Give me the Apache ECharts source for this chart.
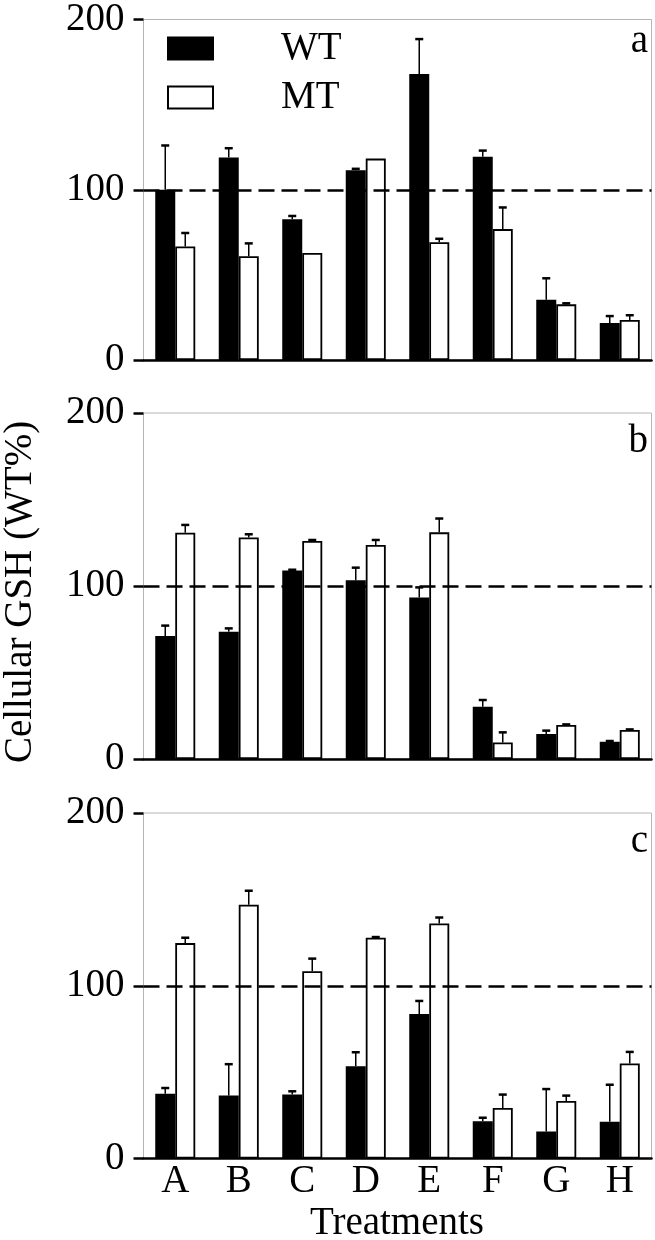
<!DOCTYPE html>
<html>
<head>
<meta charset="utf-8">
<script src="https://cdn.jsdelivr.net/npm/echarts@6/dist/echarts.min.js"></script>
<style>
  html, body { margin: 0; padding: 0; background: #fff; }
  #chart { width: 655px; height: 1240px; }
</style>
</head>
<body>
<div id="chart"></div>
<script>
// categories & tick labels
const treatments = ['A', 'B', 'C', 'D', 'E', 'F', 'G', 'H']
const yTicks = [0, 100, 200]

// panel a
const wtA = [100, 119, 82.7, 111.5, 168, 119.4, 35.4, 21.7]
const wtErrA = [26, 5.4, 1.9, 0.8, 20.5, 3.6, 12.6, 4.1]
const mtA = [66.7, 61, 62.9, 118.3, 69.2, 76.9, 32.7, 23.5]
const mtErrA = [7.9, 7.5, 0, 0, 2, 12.7, 0.6, 2.8]

// panel b
const wtB = [71.1, 73.6, 109, 103.3, 93.3, 30.2, 14.5, 10]
const wtErrB = [6, 1.9, 0.4, 7.3, 5.9, 3.9, 1.9, 0.4]
const mtB = [130.8, 128.1, 126, 123.7, 131, 9.6, 19.7, 16.8]
const mtErrB = [4.5, 1.8, 0.6, 2.9, 8, 5.8, 0.3, 0.3]

// panel c
const wtC = [37.5, 36.4, 37, 53.4, 83.7, 21.5, 15.7, 21.3]
const wtErrC = [3.3, 18.2, 1.9, 8.1, 7.5, 2.1, 24.5, 21.4]
const mtC = [124.7, 146.9, 108.4, 127.8, 136, 29.3, 33.3, 55]
const mtErrC = [3.1, 8.1, 7.3, 0.4, 3.5, 7.7, 3.1, 6.7]

const refLine = 100

const panels = [
  { letter: 'a', wt: wtA, wtErr: wtErrA, mt: mtA, mtErr: mtErrA, top: 13.5, bottom: 360 },
  { letter: 'b', wt: wtB, wtErr: wtErrB, mt: mtB, mtErr: mtErrB, top: 413, bottom: 759 },
  { letter: 'c', wt: wtC, wtErr: wtErrC, mt: mtC, mtErr: mtErrC, top: 813, bottom: 1158.5 }
]

const FONT = "'Liberation Serif', 'DejaVu Serif', 'Times New Roman', serif"
const catGap = 0.37

// error bar: upper whisker only, with a cap
const errRenderer = (side) => (params, api) => {
  const idx = api.value(0)
  const v = api.value(1)
  const e = api.value(2)
  if (!e) return
  const band = api.size([1, 0])[0]
  const bw = band * (1 - catGap) / 2
  const base = api.coord([idx, v])
  const top = api.coord([idx, v + e])
  const x = base[0] + side * bw / 2
  return {
    type: 'group',
    children: [
      { type: 'line', shape: { x1: x, y1: base[1], x2: x, y2: top[1] }, style: { stroke: '#000', lineWidth: 1.5 } },
      { type: 'line', shape: { x1: x - 4, y1: top[1], x2: x + 4, y2: top[1] }, style: { stroke: '#000', lineWidth: 2.5 } }
    ]
  }
}

const grids = []
const xAxes = []
const yAxes = []
const series = []

panels.forEach((p, i) => {
  grids.push({
    left: 143.5, right: 3.5, top: p.top, height: p.bottom - p.top,
    show: true, borderColor: '#b5b5b5', borderWidth: 1
  })
  xAxes.push({
    type: 'category', gridIndex: i, data: treatments,
    axisLine: { lineStyle: { color: '#000', width: 2.5 } },
    axisTick: { show: false },
    axisLabel: { show: i === 2, color: '#000', fontFamily: FONT, fontSize: 39, margin: 4 },
    splitLine: { show: false }
  })
  yAxes.push({
    type: 'value', gridIndex: i, min: yTicks[0], max: yTicks[yTicks.length - 1], interval: 100,
    axisLine: { show: false },
    axisTick: { show: true, length: 10, lineStyle: { color: '#000', width: 2.5 } },
    axisLabel: { color: '#000', fontFamily: FONT, fontSize: 39, margin: 19 },
    splitLine: { show: false }
  })
  series.push({
    name: 'WT', type: 'bar', xAxisIndex: i, yAxisIndex: i, data: p.wt,
    barGap: '0%', barCategoryGap: (catGap * 100) + '%',
    itemStyle: { color: '#000', borderColor: '#000', borderWidth: 1.5 }
  })
  series.push({
    name: 'MT', type: 'bar', xAxisIndex: i, yAxisIndex: i, data: p.mt,
    itemStyle: { color: '#fff', borderColor: '#000', borderWidth: 1.8 },
    markLine: {
      silent: true, symbol: 'none', label: { show: false },
      lineStyle: { color: '#000', type: [16, 7], width: 2.5 },
      data: [{ yAxis: refLine }]
    }
  })
  series.push({
    type: 'custom', xAxisIndex: i, yAxisIndex: i, z: 5,
    renderItem: errRenderer(-1),
    encode: { x: 0, y: 1 },
    data: p.wt.map((v, k) => [k, v, p.wtErr[k]])
  })
  series.push({
    type: 'custom', xAxisIndex: i, yAxisIndex: i, z: 5,
    renderItem: errRenderer(1),
    encode: { x: 0, y: 1 },
    data: p.mt.map((v, k) => [k, v, p.mtErr[k]])
  })
})

const textStyle = (txt, extra) => Object.assign({ text: txt, fill: '#000', fontFamily: FONT, fontSize: 39 }, extra || {})

const chart = echarts.init(document.getElementById('chart'))
chart.setOption({
  animation: false,
  backgroundColor: '#fff',
  grid: grids,
  xAxis: xAxes,
  yAxis: yAxes,
  legend: {
    data: ['WT', 'MT'],
    orient: 'vertical', left: 162, top: 24,
    itemWidth: 45, itemHeight: 22, itemGap: 10,
    icon: 'rect',
    textStyle: { color: '#000', fontFamily: FONT, fontSize: 39, padding: [0, 0, 0, 63] }
  },
  graphic: [
    ...panels.map(p => ({
      type: 'text', right: 7, top: p.top + 9,
      style: textStyle(p.letter)
    })),
    {
      type: 'text', x: 21, y: 592, rotation: Math.PI / 2,
      style: textStyle('Cellular GSH (WT%)', { align: 'center', verticalAlign: 'middle' })
    },
    {
      type: 'text', x: 397, y: 1224,
      style: textStyle('Treatments', { align: 'center', verticalAlign: 'middle' })
    }
  ],
  series: series
})
</script>
</body>
</html>
